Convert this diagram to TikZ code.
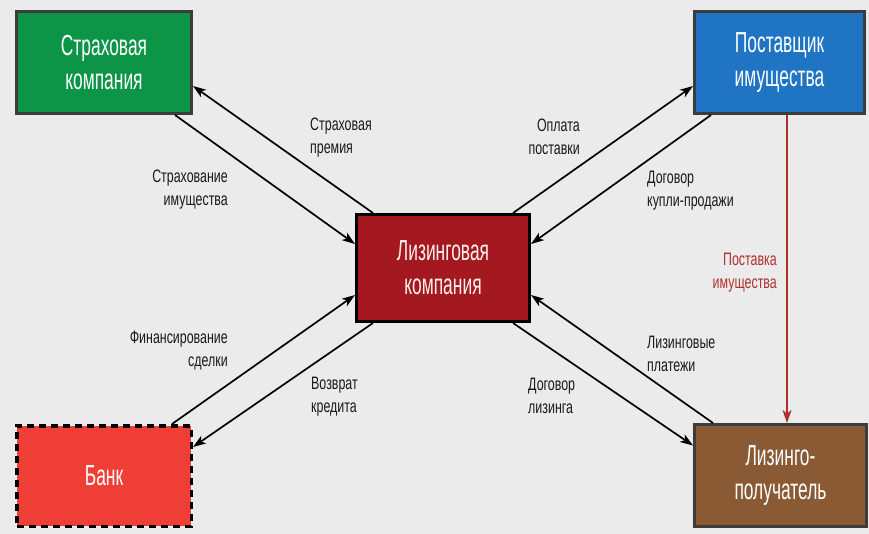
\documentclass[tikz,border=0pt]{standalone}
\usepackage{fontspec}
\setmainfont{Liberation Sans}
\newfontfamily\boxfont[FakeStretch=0.6]{Liberation Sans}
\newfontfamily\lblfont[FakeStretch=0.69]{Liberation Sans}
\usetikzlibrary{arrows.meta,calc}
\definecolor{bgc}{HTML}{EBEBEB}
\definecolor{boxborder}{HTML}{3C3C3C}
\definecolor{insgreen}{HTML}{0C9447}
\definecolor{supblue}{HTML}{1F74C4}
\definecolor{lcred}{HTML}{A3191F}
\definecolor{bankred}{HTML}{EF3E36}
\definecolor{lesbrown}{HTML}{8A5A34}
\definecolor{lbltext}{HTML}{1A1A1A}
\definecolor{delivred}{HTML}{B0302E}
\begin{document}
\begin{tikzpicture}[x=1pt,y=-1pt,
  box/.style={draw=boxborder,line width=3pt,inner sep=0pt,align=center,text=white,
    font=\boxfont\fontsize{29}{34}\selectfont},
  lbl/.style={inner sep=0pt,text=lbltext,font=\lblfont\fontsize{18}{23}\selectfont},
  conn/.style={line width=1.7pt,draw=black,-{Stealth[length=13pt,width=9pt,inset=3.5pt]}}
]
\useasboundingbox (0,0) rectangle (869,534);
\fill[bgc] (0,0) rectangle (869,534);

% boxes
\node[box,fill=insgreen,minimum width=175pt,minimum height=102pt] (ins) at (104,62.5) {Страховая\\компания};
\node[box,fill=supblue,minimum width=170pt,minimum height=102pt] (sup) at (779.5,62.5) {Поставщик\\имущества};
\node[box,fill=lcred,draw=black,minimum width=173pt,minimum height=107pt,text=white!94!red] (lc) at (443,268) {Лизинговая\\компания};
\node[box,fill=bankred,draw=black,line width=3.5pt,dash pattern=on 7pt off 5pt,minimum width=174.5pt,minimum height=100.5pt] (bank) at (104,476) {Банк};
\node[box,fill=lesbrown,minimum width=172pt,minimum height=102pt] (les) at (780.5,475.5) {Лизинго-\\получатель};

% connectors
\draw[conn] ($(ins.south east)+(-18,0)$) -- ($(lc.west)+(0,-24)$);
\draw[conn] ($(lc.north west)+(18,0)$) -- ($(ins.east)+(0,23.5)$);
\draw[conn] ($(lc.north east)+(-18,0)$) -- ($(sup.west)+(0,23.5)$);
\draw[conn] ($(sup.south west)+(18,0)$) -- ($(lc.east)+(0,-24)$);
\draw[conn] ($(bank.north east)+(-21,0)$) -- ($(lc.west)+(0,27)$);
\draw[conn] ($(lc.south west)+(18,0)$) -- ($(bank.east)+(0,-29)$);
\draw[conn] ($(les.north west)+(20,0)$) -- ($(lc.east)+(0,27)$);
\draw[conn] ($(lc.south east)+(-18,0)$) -- ($(les.west)+(0,-30)$);
\draw[line width=1.3pt,draw=delivred,-{Stealth[length=13pt,width=9pt,inset=3.5pt]}]
  ($(sup.south west)+(94,0)$) -- ($(les.north west)+(94,0)$);

% labels
\node[lbl,anchor=west,align=left] (l1) at (310,138) {Страховая\\премия};
\node[lbl,anchor=east,align=right] (l2) at (228,190) {Страхование\\имущества};
\node[lbl,anchor=east,align=right] (l3) at (580,137) {Оплата\\поставки};
\node[lbl,anchor=west,align=left] (l4) at (647,191) {Договор\\купли-продажи};
\node[lbl,anchor=east,align=right,text=delivred] (l5) at (777,273) {Поставка\\имущества};
\node[lbl,anchor=east,align=right] (l6) at (228,351) {Финансирование\\сделки};
\node[lbl,anchor=west,align=left] (l7) at (311,397) {Возврат\\кредита};
\node[lbl,anchor=west,align=left] (l8) at (647,354) {Лизинговые\\платежи};
\node[lbl,anchor=west,align=left] (l9) at (528,396) {Договор\\лизинга};
\end{tikzpicture}
\end{document}
